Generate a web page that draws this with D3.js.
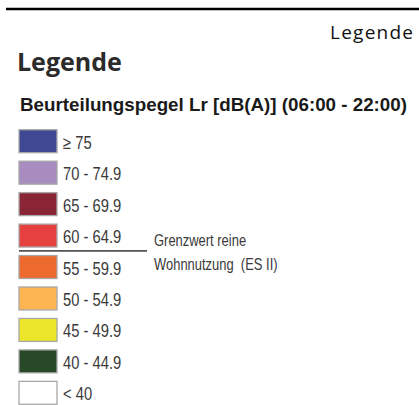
<!DOCTYPE html>
<html>
<head>
<meta charset="utf-8">
<script src="https://cdn.jsdelivr.net/npm/d3@7"></script>
<style>
  body { margin: 0; background: #fff; }
</style>
</head>
<body>
<div id="legend"></div>
<script>
var width = 419,
    height = 405;

// legend classes, top to bottom
var classes = ["≥ 75", "70 - 74.9", "65 - 69.9", "60 - 64.9", "55 - 59.9", "50 - 54.9", "45 - 49.9", "40 - 44.9", "< 40"];
var classColors = ["#3f4893", "#a88bbf", "#8a2535", "#e6403f", "#ec6a2e", "#fdb453", "#ece62b", "#284827", "#ffffff"];
var limitAfter = "60 - 64.9"; // Grenzwert line sits under this class
var limitText = ["Grenzwert reine", "Wohnnutzung  (ES II)"];

var narrow = 0.82; // labels look like Arial Narrow, squeeze Liberation Sans

var svg = d3.select("#legend").append("svg")
    .attr("width", width)
    .attr("height", height);

// top rule
svg.append("line")
    .attr("x1", 6).attr("x2", width)
    .attr("y1", 9).attr("y2", 9)
    .attr("stroke", "#000")
    .attr("stroke-width", 2.5);

svg.append("text")
    .attr("x", 413).attr("y", 39)
    .attr("text-anchor", "end")
    .attr("textLength", 83)
    .style("font-family", "'Open Sans', sans-serif")
    .style("font-size", "19px")
    .attr("fill", "#111")
    .text("Legende");

svg.append("text")
    .attr("x", 17).attr("y", 71)
    .style("font-family", "'Open Sans', sans-serif")
    .style("font-weight", "bold")
    .style("font-size", "25px")
    .attr("fill", "#2b2b2b")
    .text("Legende");

svg.append("text")
    .attr("x", 20).attr("y", 110.5)
    .attr("textLength", 387)
    .attr("lengthAdjust", "spacingAndGlyphs")
    .style("font-family", "'Liberation Sans', Arial, sans-serif")
    .style("font-weight", "bold")
    .style("font-size", "19px")
    .attr("fill", "#1a1a1a")
    .text("Beurteilungspegel Lr [dB(A)] (06:00 - 22:00)");

var y = d3.scaleBand()
    .domain(classes)
    .range([125.5, 125.5 + 9 * 31.45])
    .paddingInner(0.27)
    .paddingOuter(0.135);

var color = d3.scaleOrdinal()
    .domain(classes)
    .range(classColors);

var row = svg.selectAll(".row")
    .data(classes)
    .enter().append("g")
    .attr("class", "row")
    .attr("transform", function(d){ return "translate(0," + y(d) + ")"; });

row.append("rect")
    .attr("x", 19)
    .attr("width", 38)
    .attr("height", y.bandwidth())
    .attr("fill", function(d){ return color(d); })
    .attr("stroke", "#a8a8a8")
    .attr("stroke-width", 1.3);

row.append("text")
    .attr("transform", "translate(63," + (y.bandwidth() / 2 + 7.5) + ")scale(" + narrow + ",1)")
    .style("font-family", "'Liberation Sans', Arial, sans-serif")
    .style("font-size", "18px")
    .attr("fill", "#3a3a3a")
    .text(function(d){ return d; });

// Grenzwert marker
var lineY = y(limitAfter) + y.bandwidth() + (y.step() - y.bandwidth()) / 2 - 0.5;
svg.append("line")
    .attr("x1", 19).attr("x2", 147)
    .attr("y1", lineY).attr("y2", lineY)
    .attr("stroke", "#555")
    .attr("stroke-width", 1.8);

svg.selectAll(".limit")
    .data(limitText)
    .enter().append("text")
    .attr("class", "limit")
    .attr("transform", function(d, i){ return "translate(154," + (lineY - 4.5 + i * 23.5) + ")scale(" + narrow + ",1)"; })
    .style("font-family", "'Liberation Sans', Arial, sans-serif")
    .style("font-size", "15.8px")
    .style("white-space", "pre")
    .attr("fill", "#3a3a3a")
    .text(function(d){ return d; });
</script>
</body>
</html>
